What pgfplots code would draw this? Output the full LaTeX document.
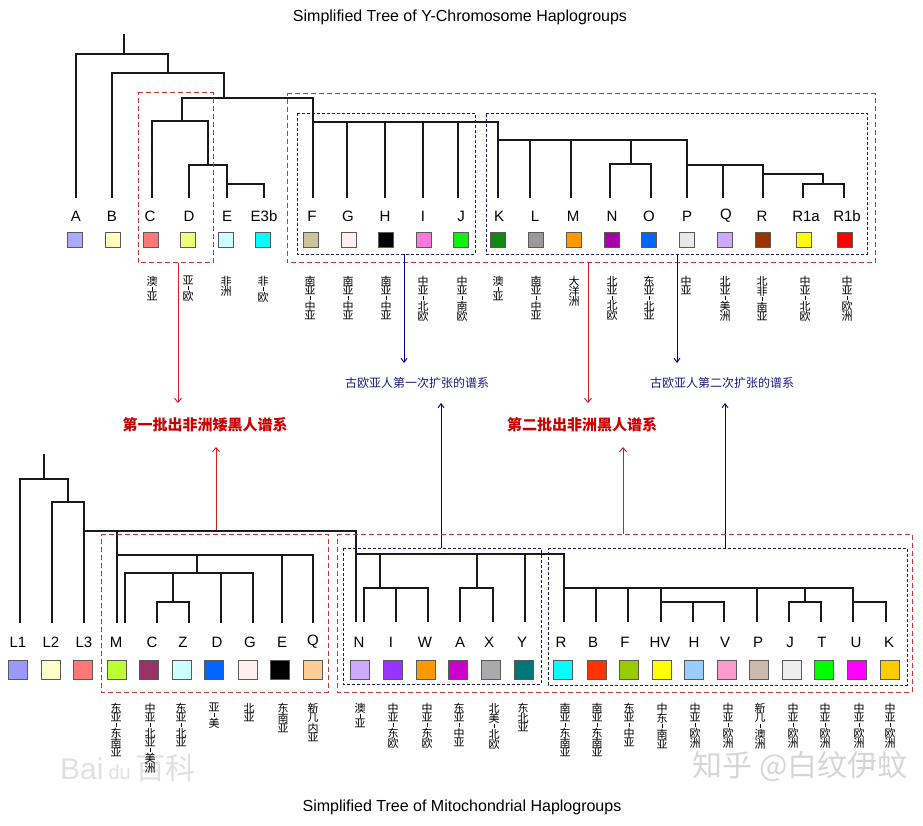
\documentclass[border=0pt]{standalone}
\usepackage{pgfplots}
\pgfplotsset{compat=1.18}
\usepackage{fontspec}
\setmainfont{Liberation Sans}
\newfontfamily\cjk{Noto Sans CJK SC}
\usetikzlibrary{arrows.meta}
\definecolor{cA}{HTML}{AAAAFF}\definecolor{cB}{HTML}{FFFFBB}\definecolor{cC}{HTML}{FF7777}
\definecolor{cD}{HTML}{EEFF77}\definecolor{cE}{HTML}{CCFFFF}\definecolor{cE3b}{HTML}{00FFFF}
\definecolor{cF}{HTML}{CCC39C}\definecolor{cG}{HTML}{FFEEEE}\definecolor{cH}{HTML}{000000}
\definecolor{cI}{HTML}{FF77DD}\definecolor{cJ}{HTML}{11EE11}\definecolor{cK}{HTML}{118811}
\definecolor{cL}{HTML}{999999}\definecolor{cM}{HTML}{FF9900}\definecolor{cN}{HTML}{AA00AA}
\definecolor{cO}{HTML}{0066FF}\definecolor{cP}{HTML}{E8E8E8}\definecolor{cQ}{HTML}{CCAAFF}
\definecolor{cR}{HTML}{993300}\definecolor{cRa}{HTML}{FFFF00}\definecolor{cRb}{HTML}{FF0000}
\definecolor{mL1}{HTML}{9999FF}\definecolor{mL2}{HTML}{FFFFCC}\definecolor{mL3}{HTML}{FF7777}
\definecolor{mM}{HTML}{BBFF33}\definecolor{mC}{HTML}{993366}\definecolor{mZ}{HTML}{CCFFFF}
\definecolor{mD}{HTML}{0066FF}\definecolor{mG}{HTML}{FFEEEE}\definecolor{mE}{HTML}{000000}
\definecolor{mQ}{HTML}{FFCC99}\definecolor{mN}{HTML}{CCAAFF}\definecolor{mI}{HTML}{9933FF}
\definecolor{mW}{HTML}{FF9900}\definecolor{mA}{HTML}{CC00CC}\definecolor{mX}{HTML}{AAAAAA}
\definecolor{mY}{HTML}{007777}\definecolor{mR}{HTML}{00FFFF}\definecolor{mB}{HTML}{FF3300}
\definecolor{mF}{HTML}{99CC00}\definecolor{mHV}{HTML}{FFFF00}\definecolor{mH}{HTML}{99CCFF}
\definecolor{mV}{HTML}{FF99CC}\definecolor{mP}{HTML}{CCBBAA}\definecolor{mJ}{HTML}{EEEEEE}
\definecolor{mT}{HTML}{00FF00}\definecolor{mU}{HTML}{FF00FF}\definecolor{mK}{HTML}{FFCC00}
\definecolor{boxred}{HTML}{CC3333}\definecolor{boxblue}{HTML}{1A1A66}
\definecolor{arrred}{HTML}{CC2222}\definecolor{arrblue}{HTML}{000080}
\definecolor{txtred}{HTML}{CC0000}\definecolor{txtblue}{HTML}{1A1A80}
\newcommand{\vc}[1]{\hbox to 12pt{\hss#1\hss}}
\newcommand{\hy}{\kern0.8pt\hbox to 12pt{\hss\vrule width 0.6pt height 4pt\hss}\kern1.2pt}
\newcommand{\vlab}[3]{\node[anchor=north,inner sep=0pt,font=\cjk\fontsize{11}{11}\selectfont] at (axis cs:#1,#2) {\vbox{\offinterlineskip #3}};}
\newcommand{\sq}[4]{\addplot[only marks, mark=square*, mark size=#4, mark options={fill=#3, draw=black!65, line width=0.6pt}] coordinates {(#1,#2)};}
\newcommand{\lab}[3]{\node[font=\fontsize{15}{15}\selectfont, inner sep=0pt] at (axis cs:#1,#2) {#3};}
\begin{document}
\begin{tikzpicture}
\begin{axis}[width=923pt,height=826pt,scale only axis,
  xmin=0,xmax=923,ymin=0,ymax=826,y dir=reverse,hide axis,clip=false,
  tree/.style={black!90,line width=1.8pt,line cap=rect},
  rbox/.style={boxred,line width=1pt,dash pattern=on 5pt off 3pt},
  bbox/.style={boxblue,line width=0.9pt,dash pattern=on 3pt off 2pt},
  rarr/.style={arrred,line width=1pt,-{Straight Barb[length=4pt,width=7pt]}},
  barr/.style={arrblue,line width=0.9pt,-{Straight Barb[length=4pt,width=6pt]}}]
\addplot[draw=none] coordinates {(0,0) (923,826)};
% ---------- titles ----------
\node[font=\fontsize{16}{18}\selectfont] at (axis cs:460,17) {Simplified Tree of Y-Chromosome Haplogroups};
\node[font=\fontsize{16}{18}\selectfont] at (axis cs:462,807) {Simplified Tree of Mitochondrial Haplogroups};
% ---------- watermarks ----------
\node[font=\fontsize{30}{30}\selectfont, text=black!12] at (axis cs:128,768) {Bai\,{\fontsize{20}{20}\selectfont du}\,{\cjk 百科}};
\node[font=\cjk\fontsize{30}{30}\selectfont, text=black!16] at (axis cs:800,766) {知乎 @白纹伊蚊};
% ---------- Y tree ----------
\addplot[tree] coordinates {(124,35) (124,54)};
\addplot[tree] coordinates {(76,197) (76,54) (168,54) (168,73)};
\addplot[tree] coordinates {(112,197) (112,73) (224,73) (224,98)};
\addplot[tree] coordinates {(182,121) (182,98) (313,98) (313,197)};
\addplot[tree] coordinates {(152,197) (152,121) (208,121) (208,165)};
\addplot[tree] coordinates {(189,197) (189,165) (227,165) (227,197)};
\addplot[tree] coordinates {(227,184) (264,184) (264,197)};
\addplot[tree] coordinates {(313,122) (498,122) (498,197)};
\addplot[tree] coordinates {(347,122) (347,197)};
\addplot[tree] coordinates {(385,122) (385,197)};
\addplot[tree] coordinates {(423,122) (423,197)};
\addplot[tree] coordinates {(458,122) (458,197)};
\addplot[tree] coordinates {(498,140) (687,140) (687,197)};
\addplot[tree] coordinates {(530,140) (530,197)};
\addplot[tree] coordinates {(571,140) (571,197)};
\addplot[tree] coordinates {(631,140) (631,164)};
\addplot[tree] coordinates {(610,197) (610,164) (651,164) (651,197)};
\addplot[tree] coordinates {(687,165) (763,165) (763,197)};
\addplot[tree] coordinates {(723,165) (723,197)};
\addplot[tree] coordinates {(763,174) (823,174) (823,184)};
\addplot[tree] coordinates {(803,197) (803,184) (844,184) (844,197)};
% Y labels
\lab{76}{216}{A}\lab{112}{216}{B}\lab{150}{216}{C}\lab{189}{216}{D}\lab{227}{216}{E}\lab{264}{216}{E3b}
\lab{312}{216}{F}\lab{348}{216}{G}\lab{385}{216}{H}\lab{423}{216}{I}\lab{461}{216}{J}
\lab{499}{216}{K}\lab{535}{216}{L}\lab{573}{216}{M}\lab{612}{216}{N}\lab{649}{216}{O}
\lab{687}{216}{P}\lab{726}{216}{Q}\lab{762}{216}{R}\lab{806}{216}{R1a}\lab{847}{216}{R1b}
% Y squares
\sq{75}{240}{cA}{7.5}\sq{113}{240}{cB}{7.5}\sq{151}{240}{cC}{7.5}\sq{188}{240}{cD}{7.5}
\sq{226}{240}{cE}{7.5}\sq{263}{240}{cE3b}{7.5}\sq{311}{240}{cF}{7.5}\sq{349}{240}{cG}{7.5}
\sq{386}{240}{cH}{7.5}\sq{424}{240}{cI}{7.5}\sq{461}{240}{cJ}{7.5}\sq{498}{240}{cK}{7.5}
\sq{536}{240}{cL}{7.5}\sq{574}{240}{cM}{7.5}\sq{612}{240}{cN}{7.5}\sq{649}{240}{cO}{7.5}
\sq{687}{240}{cP}{7.5}\sq{725}{240}{cQ}{7.5}\sq{763}{240}{cR}{7.5}\sq{804}{240}{cRa}{7.5}
\sq{845}{240}{cRb}{7.5}
% Y boxes
\addplot[rbox] coordinates {(138,93) (213,93) (213,263) (138,263) (138,93)};
\addplot[rbox] coordinates {(287,94) (875,94) (875,263) (287,263) (287,94)};
\addplot[bbox] coordinates {(297,113) (475,113) (475,254) (297,254) (297,113)};
\addplot[bbox] coordinates {(486,113) (867,113) (867,254) (486,254) (486,113)};
% Y region labels
\vlab{152}{276}{\vc{澳}\hy\vc{亚}}
\vlab{188}{276}{\vc{亚}\hy\vc{欧}}
\vlab{226}{276}{\vc{非}\vc{洲}}
\vlab{263}{276}{\vc{非}\hy\vc{欧}}
\vlab{310}{276}{\vc{南}\vc{亚}\hy\vc{中}\vc{亚}}
\vlab{348}{276}{\vc{南}\vc{亚}\hy\vc{中}\vc{亚}}
\vlab{386}{276}{\vc{南}\vc{亚}\hy\vc{中}\vc{亚}}
\vlab{423}{276}{\vc{中}\vc{亚}\hy\vc{北}\vc{欧}}
\vlab{462}{276}{\vc{中}\vc{亚}\hy\vc{南}\vc{欧}}
\vlab{498}{276}{\vc{澳}\hy\vc{亚}}
\vlab{536}{276}{\vc{南}\vc{亚}\hy\vc{中}\vc{亚}}
\vlab{574}{276}{\vc{大}\vc{洋}\vc{洲}}
\vlab{612}{276}{\vc{北}\vc{亚}\hy\vc{北}\vc{欧}}
\vlab{649}{276}{\vc{东}\vc{亚}\hy\vc{北}\vc{亚}}
\vlab{686}{276}{\vc{中}\vc{亚}}
\vlab{725}{276}{\vc{北}\vc{亚}\hy\vc{美}\vc{洲}}
\vlab{762}{276}{\vc{北}\vc{非}\hy\vc{南}\vc{亚}}
\vlab{805}{276}{\vc{中}\vc{亚}\hy\vc{北}\vc{欧}}
\vlab{847}{276}{\vc{中}\vc{亚}\hy\vc{欧}\vc{洲}}
% arrows down
\addplot[rarr] coordinates {(178,263) (178,403)};
\addplot[rarr] coordinates {(588,263) (588,403)};
\addplot[barr] coordinates {(404,254) (404,363)};
\addplot[barr] coordinates {(677,254) (677,363)};
% middle texts
\node[font=\cjk\fontsize{12}{12}\selectfont, text=txtblue] at (axis cs:417,383) {古欧亚人第一次扩张的谱系};
\node[font=\cjk\fontsize{12}{12}\selectfont, text=txtblue] at (axis cs:722,383) {古欧亚人第二次扩张的谱系};
\node[font=\cjk\bfseries\fontsize{15}{15}\selectfont, text=txtred] at (axis cs:205,425) {第一批出非洲矮黑人谱系};
\node[font=\cjk\bfseries\fontsize{15}{15}\selectfont, text=txtred] at (axis cs:582,425) {第二批出非洲黑人谱系};
% arrows up
\addplot[rarr] coordinates {(216,531) (216,447)};
\addplot[rarr] coordinates {(623,534) (623,447)};
\addplot[barr] coordinates {(441,548) (441,403)};
\addplot[barr] coordinates {(725,548) (725,403)};
% ---------- mito tree ----------
\addplot[tree] coordinates {(44,455) (44,479)};
\addplot[tree] coordinates {(20,622) (20,479) (68,479) (68,502)};
\addplot[tree] coordinates {(52,622) (52,502) (84,502) (84,622)};
\addplot[tree] coordinates {(84,531) (356,531) (356,621)};
\addplot[tree] coordinates {(117,531) (117,622)};
\addplot[tree] coordinates {(117,555) (313,555) (313,622)};
\addplot[tree] coordinates {(197,555) (197,573)};
\addplot[tree] coordinates {(282,555) (282,622)};
\addplot[tree] coordinates {(125,622) (125,573) (253,573) (253,622)};
\addplot[tree] coordinates {(221,573) (221,622)};
\addplot[tree] coordinates {(173,573) (173,602)};
\addplot[tree] coordinates {(157,622) (157,602) (189,602) (189,622)};
\addplot[tree] coordinates {(356,554) (564,554) (564,621)};
\addplot[tree] coordinates {(380,554) (380,588)};
\addplot[tree] coordinates {(364,621) (364,588) (428,588) (428,621)};
\addplot[tree] coordinates {(396,588) (396,621)};
\addplot[tree] coordinates {(477,554) (477,588)};
\addplot[tree] coordinates {(460,621) (460,588) (493,588) (493,621)};
\addplot[tree] coordinates {(525,554) (525,621)};
\addplot[tree] coordinates {(564,588) (853,588) (853,621)};
\addplot[tree] coordinates {(596,588) (596,621)};
\addplot[tree] coordinates {(628,588) (628,621)};
\addplot[tree] coordinates {(661,588) (661,621)};
\addplot[tree] coordinates {(757,588) (757,621)};
\addplot[tree] coordinates {(661,602) (724,602) (724,621)};
\addplot[tree] coordinates {(693,602) (693,621)};
\addplot[tree] coordinates {(805,588) (805,602)};
\addplot[tree] coordinates {(789,621) (789,602) (821,602) (821,621)};
\addplot[tree] coordinates {(853,602) (886,602) (886,621)};
% mito labels
\lab{18}{642}{L1}\lab{51}{642}{L2}\lab{84}{642}{L3}\lab{116}{642}{M}\lab{152}{642}{C}
\lab{183}{642}{Z}\lab{217}{642}{D}\lab{250}{642}{G}\lab{282}{642}{E}\lab{313}{642}{Q}
\lab{359}{642}{N}\lab{391}{642}{I}\lab{425}{642}{W}\lab{460}{642}{A}\lab{489}{642}{X}\lab{522}{642}{Y}
\lab{561}{642}{R}\lab{593}{642}{B}\lab{625}{642}{F}\lab{660}{642}{HV}\lab{694}{642}{H}
\lab{725}{642}{V}\lab{758}{642}{P}\lab{790}{642}{J}\lab{822}{642}{T}\lab{856}{642}{U}\lab{889}{642}{K}
% mito squares
\sq{18}{670}{mL1}{9.5}\sq{51}{670}{mL2}{9.5}\sq{83}{670}{mL3}{9.5}\sq{117}{670}{mM}{9.5}
\sq{149}{670}{mC}{9.5}\sq{182}{670}{mZ}{9.5}\sq{214}{670}{mD}{9.5}\sq{248}{670}{mG}{9.5}
\sq{280}{670}{mE}{9.5}\sq{313}{670}{mQ}{9.5}\sq{360}{670}{mN}{9.5}\sq{393}{670}{mI}{9.5}
\sq{426}{670}{mW}{9.5}\sq{458}{670}{mA}{9.5}\sq{491}{670}{mX}{9.5}\sq{524}{670}{mY}{9.5}
\sq{563}{670}{mR}{9.5}\sq{597}{670}{mB}{9.5}\sq{629}{670}{mF}{9.5}\sq{662}{670}{mHV}{9.5}
\sq{694}{670}{mH}{9.5}\sq{727}{670}{mV}{9.5}\sq{759}{670}{mP}{9.5}\sq{792}{670}{mJ}{9.5}
\sq{824}{670}{mT}{9.5}\sq{857}{670}{mU}{9.5}\sq{890}{670}{mK}{9.5}
% mito boxes
\addplot[rbox] coordinates {(101,534) (328,534) (328,692) (101,692) (101,534)};
\addplot[rbox] coordinates {(337,534) (912,534) (912,692) (337,692) (337,534)};
\addplot[bbox] coordinates {(343,548) (541,548) (541,684) (343,684) (343,548)};
\addplot[bbox] coordinates {(548,548) (907,548) (907,685) (548,685) (548,548)};
% mito region labels
\vlab{116}{703}{\vc{东}\vc{亚}\hy\vc{东}\vc{南}\vc{亚}}
\vlab{150}{703}{\vc{中}\vc{亚}\hy\vc{北}\vc{亚}\hy\vc{美}\vc{洲}}
\vlab{181}{703}{\vc{东}\vc{亚}\hy\vc{北}\vc{亚}}
\vlab{214}{703}{\vc{亚}\hy\vc{美}}
\vlab{249}{703}{\vc{北}\vc{亚}}
\vlab{283}{703}{\vc{东}\vc{南}\vc{亚}}
\vlab{313}{703}{\vc{新}\vc{几}\vc{内}\vc{亚}}
\vlab{360}{703}{\vc{澳}\hy\vc{亚}}
\vlab{393}{703}{\vc{中}\vc{亚}\hy\vc{东}\vc{欧}}
\vlab{427}{703}{\vc{中}\vc{亚}\hy\vc{东}\vc{欧}}
\vlab{459}{703}{\vc{东}\vc{亚}\hy\vc{中}\vc{亚}}
\vlab{494}{703}{\vc{北}\vc{美}\hy\vc{北}\vc{欧}}
\vlab{523}{703}{\vc{东}\vc{北}\vc{亚}}
\vlab{565}{703}{\vc{南}\vc{亚}\hy\vc{东}\vc{南}\vc{亚}}
\vlab{597}{703}{\vc{南}\vc{亚}\hy\vc{东}\vc{南}\vc{亚}}
\vlab{629}{703}{\vc{东}\vc{亚}\hy\vc{中}\vc{亚}}
\vlab{662}{703}{\vc{中}\vc{东}\hy\vc{南}\vc{亚}}
\vlab{695}{703}{\vc{中}\vc{亚}\hy\vc{欧}\vc{洲}}
\vlab{728}{703}{\vc{中}\vc{亚}\hy\vc{欧}\vc{洲}}
\vlab{760}{703}{\vc{新}\vc{几}\hy\vc{澳}\vc{洲}}
\vlab{793}{703}{\vc{中}\vc{亚}\hy\vc{欧}\vc{洲}}
\vlab{825}{703}{\vc{中}\vc{亚}\hy\vc{欧}\vc{洲}}
\vlab{859}{703}{\vc{中}\vc{亚}\hy\vc{欧}\vc{洲}}
\vlab{890}{703}{\vc{中}\vc{亚}\hy\vc{欧}\vc{洲}}
\end{axis}
\end{tikzpicture}
\end{document}
